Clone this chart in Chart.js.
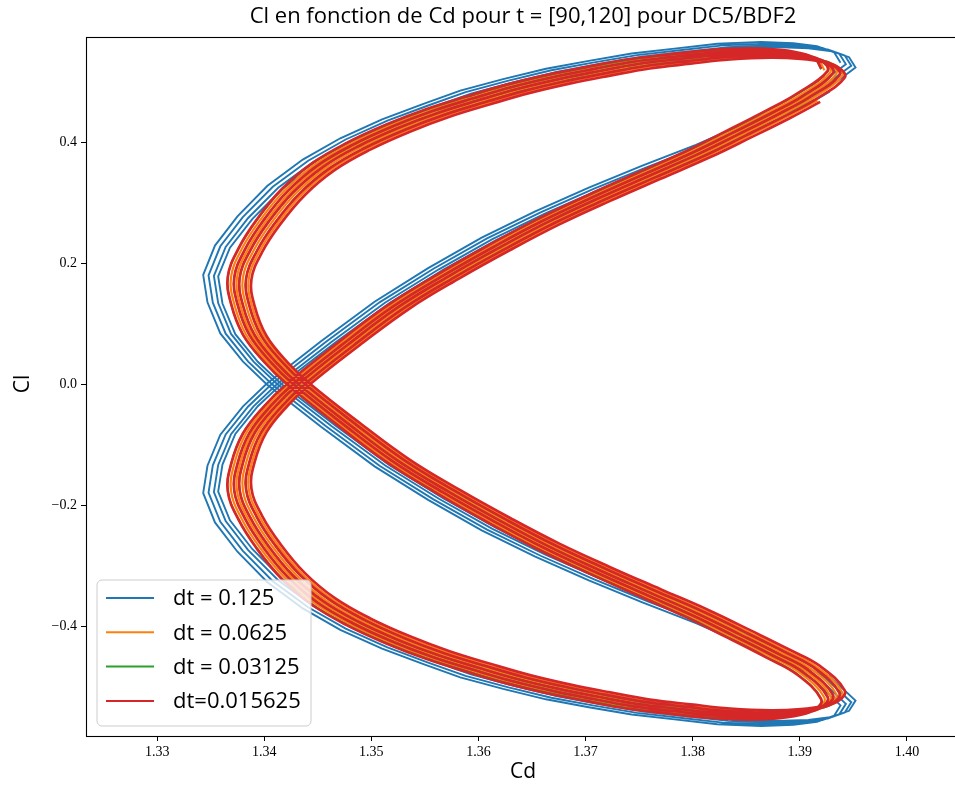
<!DOCTYPE html>
<html>
<head>
<meta charset="utf-8">
<script src="https://cdn.jsdelivr.net/npm/chart.js@4.4.0/dist/chart.umd.min.js"></script>
<style>
  html, body { margin: 0; padding: 0; background: #fff; overflow: hidden; }
  #wrap { width: 955px; height: 788px; overflow: hidden; }
</style>
</head>
<body>
<div id="wrap"><canvas id="clcd" width="970" height="788"></canvas></div>
<script>
// Axis ticks
const cdTicks = [1.33, 1.34, 1.35, 1.36, 1.37, 1.38, 1.39, 1.40];
const clTicks = [-0.4, -0.2, 0.0, 0.2, 0.4];

const seriesLabels = ["dt = 0.125", "dt = 0.0625", "dt = 0.03125", "dt=0.015625"];
const seriesColors = ["#1f77b4", "#ff7f0e", "#2ca02c", "#d62728"];

// One Cl/Cd cycle of the fine runs:
// top tip -> top arc -> upper nose -> crossing -> lower diagonal -> bottom tip
// -> bottom arc -> lower nose -> crossing -> upper diagonal
const fineLoopCd = [
  1.3933, 1.3927, 1.3912, 1.3892, 1.3864, 1.3826, 1.3789, 1.3751, 1.3714, 1.3677,
  1.3639, 1.3602, 1.3564, 1.3527, 1.3490, 1.3457, 1.3429, 1.3406, 1.3389, 1.3379,
  1.3382, 1.3393, 1.3413, 1.3434,
  1.3480, 1.3527, 1.3574, 1.3621, 1.3667, 1.3714, 1.3761, 1.3807, 1.3845, 1.3882, 1.3910,
  1.3933, 1.3927, 1.3912, 1.3892, 1.3864, 1.3826, 1.3789, 1.3751, 1.3714, 1.3677,
  1.3639, 1.3602, 1.3564, 1.3527, 1.3490, 1.3457, 1.3429, 1.3406, 1.3389, 1.3379,
  1.3382, 1.3393, 1.3413, 1.3434,
  1.3480, 1.3527, 1.3574, 1.3621, 1.3667, 1.3714, 1.3761, 1.3807, 1.3845, 1.3882, 1.3910,
];
const fineLoopCl = [
  0.514, 0.531, 0.540, 0.545, 0.547, 0.544, 0.537, 0.529, 0.517, 0.504,
  0.488, 0.469, 0.448, 0.423, 0.393, 0.359, 0.317, 0.268, 0.221, 0.175,
  0.131, 0.081, 0.036, 0.000,
  -0.065, -0.127, -0.178, -0.225, -0.268, -0.307, -0.344, -0.380, -0.413, -0.446, -0.473,
  -0.514, -0.531, -0.540, -0.545, -0.547, -0.544, -0.537, -0.529, -0.517, -0.504,
  -0.488, -0.469, -0.448, -0.423, -0.393, -0.359, -0.317, -0.268, -0.221, -0.175,
  -0.131, -0.081, -0.036, 0.000,
  0.065, 0.127, 0.178, 0.225, 0.268, 0.307, 0.344, 0.380, 0.413, 0.446, 0.473,
];

// One cycle of the coarse run (dt = 0.125), a bit wider
const coarseLoopCd = [
  1.3947, 1.3941, 1.3925, 1.3903, 1.3873, 1.3832, 1.3792, 1.3752, 1.3712, 1.3672,
  1.3632, 1.3592, 1.3557, 1.3519, 1.3480, 1.3445, 1.3412, 1.3384, 1.3363, 1.3352,
  1.3356, 1.3368, 1.3389, 1.3411,
  1.3462, 1.3512, 1.3562, 1.3612, 1.3662, 1.3712, 1.3762, 1.3812, 1.3852, 1.3893, 1.3923,
  1.3947, 1.3941, 1.3925, 1.3903, 1.3873, 1.3832, 1.3792, 1.3752, 1.3712, 1.3672,
  1.3632, 1.3592, 1.3557, 1.3519, 1.3480, 1.3445, 1.3412, 1.3384, 1.3363, 1.3352,
  1.3356, 1.3368, 1.3389, 1.3411,
  1.3462, 1.3512, 1.3562, 1.3612, 1.3662, 1.3712, 1.3762, 1.3812, 1.3852, 1.3893, 1.3923,
];
const coarseLoopCl = [
  0.527, 0.544, 0.554, 0.559, 0.561, 0.558, 0.550, 0.542, 0.530, 0.517,
  0.500, 0.481, 0.459, 0.434, 0.403, 0.368, 0.325, 0.275, 0.227, 0.179,
  0.134, 0.083, 0.037, 0.000,
  -0.070, -0.135, -0.190, -0.240, -0.283, -0.322, -0.358, -0.392, -0.423, -0.455, -0.487,
  -0.527, -0.544, -0.554, -0.559, -0.561, -0.558, -0.550, -0.542, -0.530, -0.517,
  -0.500, -0.481, -0.459, -0.434, -0.403, -0.368, -0.325, -0.275, -0.227, -0.179,
  -0.134, -0.083, -0.037, 0.000,
  0.070, 0.135, 0.190, 0.240, 0.283, 0.322, 0.358, 0.392, 0.423, 0.455, 0.487,
];

// Slow drift of each successive cycle over t = [90,120]:
// Cd offset and Cl amplitude factor of every cycle
const blueDriftCd = [-0.0009, -0.0004, 0.0001, 0.0005];
const blueGainCl = [1.008, 1.003, 0.998, 0.993];
const orangeDriftCd = [-0.001, -0.00045, 0.0001, 0.00065];
const orangeGainCl = [1.009, 1.003, 0.997, 0.991];
const greenDriftCd = [-0.0013, -0.0007, -0.0002, 0.0004];
const greenGainCl = [1.012, 1.006, 1.0, 0.994];
const redDriftCd = [-0.0013, -0.0007, -0.0002, 0.0004, 0.0009];
const redGainCl = [1.014, 1.007, 1.0, 0.993, 0.986];

// chain the cycles into one trajectory
function buildLoops(loopCd, loopCl, driftCd, gainCl) {
  const pts = [];
  driftCd.forEach((dx, k) => {
    loopCd.forEach((cd, i) => {
      pts.push({ x: cd + dx, y: loopCl[i] * gainCl[k] });
    });
  });
  return pts;
}

const sansFont = "'Open Sans', 'DejaVu Sans', sans-serif";
const serifFont = "'Liberation Serif', 'DejaVu Serif', serif";

// title, axis labels, frame and legend drawn like matplotlib
const decorPlugin = {
  id: "decor",
  afterDraw(chart) {
    const ctx = chart.ctx;
    const a = chart.chartArea;
    ctx.save();
    // frame
    ctx.strokeStyle = "#000";
    ctx.lineWidth = 1.1;
    ctx.strokeRect(a.left + 0.5, a.top + 0.5, a.right - a.left, a.bottom - a.top);

    // title and axis labels
    ctx.fillStyle = "#000";
    ctx.textAlign = "center";
    ctx.textBaseline = "middle";
    ctx.font = "22px " + sansFont;
    ctx.fillText("Cl en fonction de Cd pour t = [90,120] pour DC5/BDF2", 523, 17);
    ctx.font = "21px " + sansFont;
    ctx.fillText("Cd", 523, 772);
    ctx.save();
    ctx.translate(23, 384);
    ctx.rotate(-Math.PI / 2);
    ctx.fillText("Cl", 0, 0);
    ctx.restore();

    // legend box
    const bx = 97, by = 580, bw = 214, bh = 146, r = 5;
    ctx.beginPath();
    ctx.moveTo(bx + r, by);
    ctx.arcTo(bx + bw, by, bx + bw, by + bh, r);
    ctx.arcTo(bx + bw, by + bh, bx, by + bh, r);
    ctx.arcTo(bx, by + bh, bx, by, r);
    ctx.arcTo(bx, by, bx + bw, by, r);
    ctx.closePath();
    ctx.fillStyle = "rgba(255,255,255,0.8)";
    ctx.fill();
    ctx.strokeStyle = "#cccccc";
    ctx.lineWidth = 1;
    ctx.stroke();

    ctx.textAlign = "left";
    ctx.font = "22px " + sansFont;
    chart.data.datasets.forEach((ds, i) => {
      const y = 598 + i * 34.3;
      ctx.strokeStyle = ds.borderColor;
      ctx.lineWidth = 2;
      ctx.beginPath();
      ctx.moveTo(106, y);
      ctx.lineTo(154, y);
      ctx.stroke();
      ctx.fillStyle = "#000";
      ctx.fillText(ds.label, 173, y + 1);
    });
    ctx.restore();
  },
};

const ctx = document.getElementById("clcd").getContext("2d");
const clcdChart = new Chart(ctx, {
  type: "line",
  data: {
    datasets: [
      {
        label: seriesLabels[0],
        data: buildLoops(coarseLoopCd, coarseLoopCl, blueDriftCd, blueGainCl),
        borderColor: seriesColors[0],
        borderWidth: 1.9,
        tension: 0,
        order: 4,
      },
      {
        label: seriesLabels[1],
        data: buildLoops(fineLoopCd, fineLoopCl, orangeDriftCd, orangeGainCl),
        borderColor: seriesColors[1],
        borderWidth: 2.2,
        tension: 0.4,
        order: 3,
      },
      {
        label: seriesLabels[2],
        data: buildLoops(fineLoopCd, fineLoopCl, greenDriftCd, greenGainCl),
        borderColor: seriesColors[2],
        borderWidth: 2,
        tension: 0.4,
        order: 2,
      },
      {
        label: seriesLabels[3],
        data: buildLoops(fineLoopCd, fineLoopCl, redDriftCd, redGainCl),
        borderColor: seriesColors[3],
        borderWidth: 2.7,
        tension: 0.4,
        order: 1,
      },
    ],
  },
  options: {
    responsive: false,
    animation: false,
    devicePixelRatio: 1,
    layout: { padding: { top: 37, right: 2, bottom: 0, left: 0 } },
    elements: { point: { radius: 0 } },
    plugins: { legend: { display: false }, tooltip: { enabled: false } },
    scales: {
      x: {
        type: "linear",
        min: 1.32336,
        max: 1.4057,
        afterBuildTicks: (s) => { s.ticks = cdTicks.map((v) => ({ value: v })); },
        afterFit: (s) => { s.height = 52; },
        ticks: {
          callback: (v) => v.toFixed(2),
          font: { family: serifFont, size: 14 },
          color: "#000",
          padding: 3,
          maxRotation: 0,
          autoSkip: false,
        },
        grid: { drawOnChartArea: false, tickLength: 5, tickColor: "#000" },
        border: { display: false },
      },
      y: {
        type: "linear",
        min: -0.5818,
        max: 0.5736,
        afterBuildTicks: (s) => { s.ticks = clTicks.map((v) => ({ value: v })); },
        afterFit: (s) => { s.width = 86; },
        ticks: {
          callback: (v) => (v < 0 ? "\u2212" : "") + Math.abs(v).toFixed(1),
          font: { family: serifFont, size: 14 },
          color: "#000",
          padding: 4,
          autoSkip: false,
        },
        grid: { drawOnChartArea: false, tickLength: 5, tickColor: "#000" },
        border: { display: false },
      },
    },
  },
  plugins: [decorPlugin],
});
</script>
</body>
</html>
